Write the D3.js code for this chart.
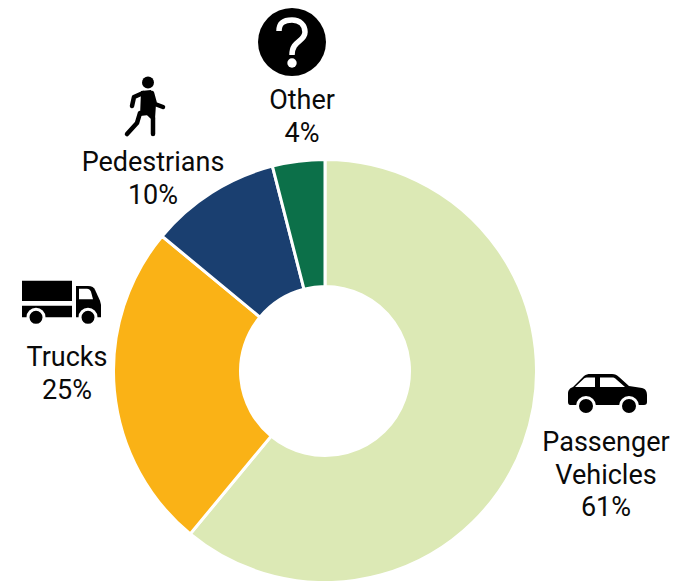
<!DOCTYPE html>
<html>
<head>
<meta charset="utf-8">
<script src="https://cdn.jsdelivr.net/npm/d3@7/dist/d3.min.js"></script>
<style>
html,body{margin:0;padding:0;background:#fff;overflow:hidden}
text{font-family:Roboto,"Noto Sans",sans-serif;font-size:27px;fill:#0a0a0a;text-anchor:middle}
</style>
</head>
<body>
<svg id="chart" width="681" height="581"></svg>
<script>
const categories = ["Passenger Vehicles", "Trucks", "Pedestrians", "Other"];
const shares = [61, 25, 10, 4];
const colors = ["#dce9b5", "#fab216", "#1a3f70", "#0c7049"];
const labelLines = [["Passenger", "Vehicles", "61%"], ["Trucks", "25%"], ["Pedestrians", "10%"], ["Other", "4%"]];
const labelAnchors = [[606, 451], [67, 366], [153, 171], [302, 109]];

const svg = d3.select("#chart");
const ring = svg.append("g").attr("transform", "translate(325,371)");

const pie = d3.pie().sort(null).value(d => d);
const arc = d3.arc().innerRadius(84.5).outerRadius(211.5);

ring.selectAll("path")
  .data(pie(shares))
  .join("path")
  .attr("d", arc)
  .attr("fill", (d, i) => colors[i])
  .attr("stroke", "#fff")
  .attr("stroke-width", 3)
  .append("title").text((d, i) => categories[i]);

// Category name and share, one tspan per line
svg.selectAll("text.label")
  .data(labelLines)
  .join("text")
  .attr("class", "label")
  .attr("transform", (d, i) => `translate(${labelAnchors[i][0]},${labelAnchors[i][1]})`)
  .selectAll("tspan")
  .data(d => d)
  .join("tspan")
  .attr("x", 0)
  .attr("y", (d, i) => i * 32.5)
  .text(d => d);

// Pictograms above each label
const car = svg.append("g").attr("transform", "translate(568,374)");
car.append("path").attr("d", "M0 20 C0 16 2 14 5 13 L16 2 C18 0.5 20 0 22 0 L44 0 C47 0 49 1 51 3 L61 12 L74 14 C78 15 79 18 79 21 L79 28 C79 30 78 31 76 31 L2 31 C1 31 0 30 0 28 Z").attr("fill", "#000");
car.append("path").attr("d", "M7 13 L16 4.500 C17 3.800 18 3.500 20 3.500 L27 3.500 L27 13 Z M32 3.500 L44 3.500 C46 3.500 47 4 49 6 L57 13 L32 13 Z").attr("fill", "#fff");
[[18, 32], [61, 32]].forEach(([x, y]) => {
  car.append("circle").attr("cx", x).attr("cy", y).attr("r", 8.500).attr("fill", "#000").attr("stroke", "#fff").attr("stroke-width", 3);
});

const truck = svg.append("g").attr("transform", "translate(22,280.700)");
truck.append("path").attr("d", "M0 0 H50 V20.300 H0 Z M0 25 H50 V36.600 H0 Z").attr("fill", "#000");
truck.append("path").attr("d", "M54 5.300 H66 C70 5.300 72 7 73 9 L78 20 L79 24 V36.600 H54 Z").attr("fill", "#000");
truck.append("path").attr("d", "M57 8 H65 C67 8 68 9 69 11 L71 18.500 H57 Z").attr("fill", "#fff");
[[14, 36.600], [66, 36.600]].forEach(([x, y]) => {
  truck.append("circle").attr("cx", x).attr("cy", y).attr("r", 8).attr("fill", "#000").attr("stroke", "#fff").attr("stroke-width", 3);
});

const walker = svg.append("g").attr("transform", "translate(124,76)");
walker.append("circle").attr("cx", 24).attr("cy", 6.500).attr("r", 6).attr("fill", "#000");
walker.append("path")
  .attr("d", "M19 17 L10 21 L8 30 M28 17 L31 28 L39 31 M24 37 L29 42 L29 58 M16 37 L13 47 L3 58")
  .attr("fill", "none").attr("stroke", "#000").attr("stroke-width", 4.500).attr("stroke-linecap", "round").attr("stroke-linejoin", "round");
walker.append("path").attr("d", "M17 15 L27 14 L32 28 L31 43 L25 39 L16 40 Z").attr("fill", "#000");

const other = svg.append("g").attr("transform", "translate(292,42)");
other.append("circle").attr("r", 34).attr("fill", "#000");
other.append("path")
  .attr("d", "M-13 -11 C-13 -20 -7 -22 0 -22 C8 -22 13 -17 13 -10 C13 0 0 -2 0 13")
  .attr("fill", "none").attr("stroke", "#fff").attr("stroke-width", 5.500);
other.append("circle").attr("cy", 21).attr("r", 4.700).attr("fill", "#fff");
</script>
</body>
</html>
